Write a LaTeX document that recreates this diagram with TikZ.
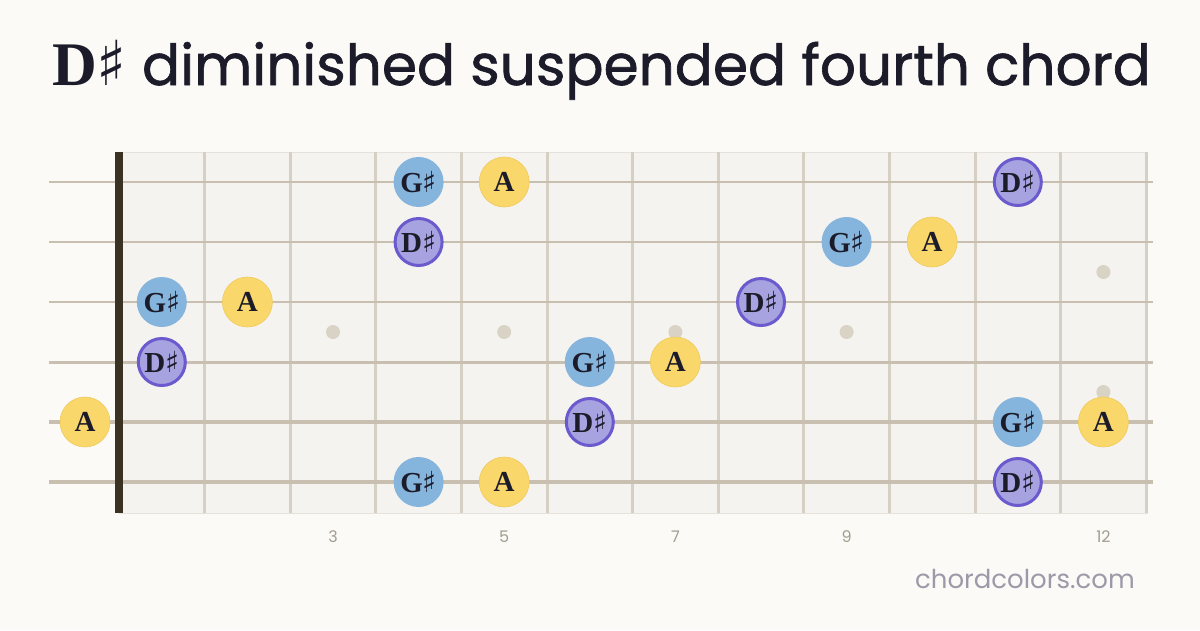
\documentclass[tikz,border=0pt]{standalone}
\usepackage{fontspec}
\setmainfont{Poppins}
\newfontfamily\notefont{Liberation Serif}
\newfontfamily\symfont{DejaVu Sans}
\newfontfamily\titlefont[FakeBold=1.2]{Poppins}
\definecolor{pagebg}{HTML}{FBFAF7}
\definecolor{boardbg}{HTML}{F5F3EF}
\definecolor{fretc}{HTML}{D6CFC3}
\definecolor{stringc}{HTML}{C8BFB1}
\definecolor{nutc}{HTML}{3A3324}
\definecolor{inkc}{HTML}{1C1B2A}
\definecolor{bluen}{HTML}{85B4DC}
\definecolor{yeln}{HTML}{F9D76B}
\definecolor{yelb}{HTML}{EFCB5E}
\definecolor{purn}{HTML}{A6A3E0}
\definecolor{purb}{HTML}{6A5ACD}
\definecolor{dotc}{HTML}{D8D3C5}
\definecolor{numc}{HTML}{A39D8E}
\definecolor{footc}{HTML}{9C9AA8}
\newcommand{\shp}{{\symfont\mdseries ♯}}
\tikzset{
  note/.style={circle, minimum size=50pt, inner sep=0pt, text=inkc,
    font=\notefont\bfseries\fontsize{29}{29}\selectfont},
  gs/.style={note, fill=bluen},
  aa/.style={note, fill=yeln, draw=yelb, line width=0.6pt},
  ds/.style={note, fill=purn, draw=purb, line width=3pt, minimum size=47pt},
  fretline/.style={draw=fretc, line width=3pt},
  inlay/.style={circle, fill=dotc, minimum size=14pt, inner sep=0pt},
  fretnum/.style={text=numc, font=\fontsize{16}{16}\selectfont},
}
\begin{document}
\begin{tikzpicture}[x=1pt,y=-1pt]
\fill[pagebg] (0,0) rectangle (1200,630);
\useasboundingbox (0,0) rectangle (1200,630);
% title
\node[anchor=base west, inner sep=0pt, text=inkc] (title) at (52,85)
  {{\notefont\bfseries\fontsize{62}{62}\selectfont D\shp}\titlefont\fontsize{56.5}{56.5}\selectfont\ diminished suspended fourth chord};
% board
\fill[boardbg, draw=fretc!60, line width=0.8pt] (119,152) rectangle (1147,513);
% frets
\foreach \n in {1,...,12} {
  \draw[fretline] ({119+\n*85.6},152) -- ({119+\n*85.6},513);
}
% inlays
\foreach \f/\yy in {3/332,5/332,7/332,9/332,12/272,12/392} {
  \node[inlay] at ({119+(\f-0.5)*85.6},\yy) {};
}
% strings
\foreach \s/\w in {1/1.8,2/2.2,3/2.6,4/3.0,5/3.4,6/4.0} {
  \draw[stringc, line width=\w pt] (49,{122+60*\s}) -- (1153,{122+60*\s});
}
% nut
\fill[nutc] (115,152) rectangle (123,513);
% fret numbers
\node[fretnum] (n3) at (333,537) {3};
\node[fretnum] (n5) at (504.2,537) {5};
\node[fretnum] (n7) at (675.4,537) {7};
\node[fretnum] (n9) at (846.6,537) {9};
\node[fretnum] (n12) at (1103.4,537) {12};
% notes string 1
\node[gs] (s1f4) at (418.6,182) {G\shp};
\node[aa] (s1f5) at (504.2,182) {A};
\node[ds] (s1f11) at (1017.8,182) {D\shp};
% string 2
\node[ds] (s2f4) at (418.6,242) {D\shp};
\node[gs] (s2f9) at (846.6,242) {G\shp};
\node[aa] (s2f10) at (932.2,242) {A};
% string 3
\node[gs] (s3f1) at (161.8,302) {G\shp};
\node[aa] (s3f2) at (247.4,302) {A};
\node[ds] (s3f8) at (761,302) {D\shp};
% string 4
\node[ds] (s4f1) at (161.8,362) {D\shp};
\node[gs] (s4f6) at (589.8,362) {G\shp};
\node[aa] (s4f7) at (675.4,362) {A};
% string 5
\node[aa] (s5f0) at (85,422) {A};
\node[ds] (s5f6) at (589.8,422) {D\shp};
\node[gs] (s5f11) at (1017.8,422) {G\shp};
\node[aa] (s5f12) at (1103.4,422) {A};
% string 6
\node[gs] (s6f4) at (418.6,482) {G\shp};
\node[aa] (s6f5) at (504.2,482) {A};
\node[ds] (s6f11) at (1017.8,482) {D\shp};
% footer
\node[anchor=base east, inner sep=0pt, text=footc, font=\fontsize{26}{26}\selectfont] (foot) at (1135,588) {chordcolors.com};
\end{tikzpicture}
\end{document}
